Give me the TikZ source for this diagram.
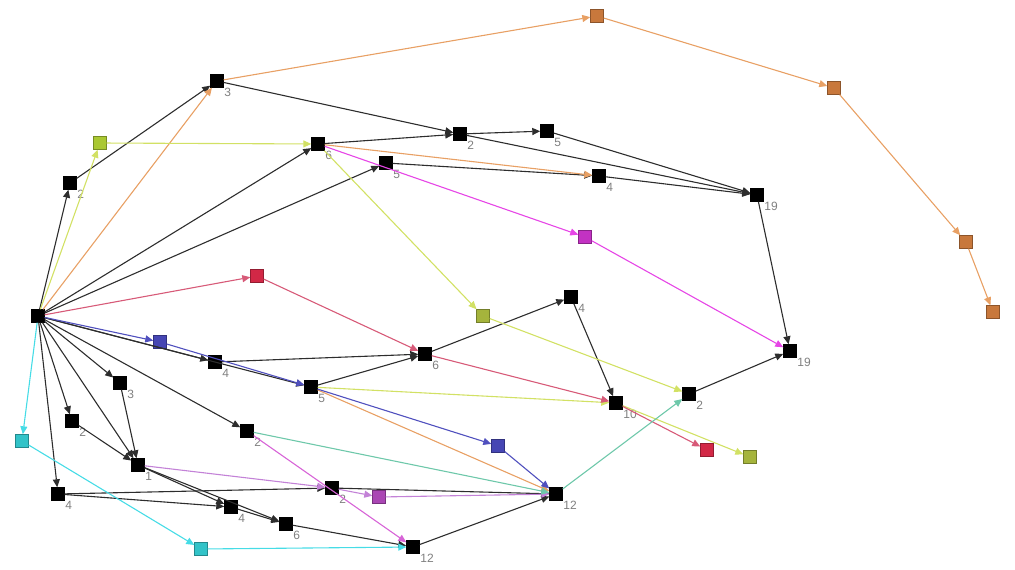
\documentclass[tikz,border=0pt]{standalone}
\usepackage{fontspec}
\setmainfont{Liberation Sans}
\usepackage{tikz}
\usetikzlibrary{arrows.meta}
\definecolor{darkline}{RGB}{45,45,45}
\definecolor{orangeline}{RGB}{232,160,100}
\definecolor{orangebox}{RGB}{200,120,60}
\definecolor{limeline}{RGB}{210,225,100}
\definecolor{limebox}{RGB}{170,200,50}
\definecolor{olivebox}{RGB}{165,180,60}
\definecolor{magline}{RGB}{230,70,230}
\definecolor{magbox}{RGB}{195,50,195}
\definecolor{redline}{RGB}{215,90,120}
\definecolor{redbox}{RGB}{210,40,70}
\definecolor{blueline}{RGB}{80,80,190}
\definecolor{bluebox}{RGB}{70,70,180}
\definecolor{violetline}{RGB}{195,130,215}
\definecolor{violetbox}{RGB}{170,70,180}
\definecolor{pinkline}{RGB}{215,100,215}
\definecolor{cyanline}{RGB}{70,220,230}
\definecolor{cyanbox}{RGB}{50,195,200}
\definecolor{tealline}{RGB}{110,200,170}

\begin{document}
\begin{tikzpicture}[
        x=1pt, y=-1pt,
        every label/.style={text=gray, font=\fontsize{12}{12}\selectfont, inner sep=0.5pt},
        bnode/.style={rectangle, draw=black, fill=black, minimum size=13pt, inner sep=0pt},
        cnode/.style={rectangle, draw=#1!70!black, fill=#1, minimum size=13pt, inner sep=0pt},
        link/.style={draw=#1, line width=1.1pt, -{Triangle[length=8pt,width=7pt]}},
        link/.default=darkline
    ]
        \useasboundingbox (0,0) rectangle (1015,570);

        % black nodes
        \node[bnode] (s) at (38,316) {};
        \node[bnode, label={below right:3}] (n3t) at (217,81) {};
        \node[bnode, label={below right:2}] (n2a) at (70,183) {};
        \node[bnode, label={below right:6}] (n6a) at (318,144) {};
        \node[bnode, label={below right:2}] (n2b) at (460,134) {};
        \node[bnode, label={below right:5}] (n5a) at (547,131) {};
        \node[bnode, label={below right:5}] (n5b) at (386,163) {};
        \node[bnode, label={below right:4}] (n4a) at (599,176) {};
        \node[bnode, label={below right:19}] (n19a) at (757,195) {};
        \node[bnode, label={below right:4}] (n4b) at (571,297) {};
        \node[bnode, label={below right:6}] (n6b) at (425,354) {};
        \node[bnode, label={below right:5}] (n5c) at (311,387) {};
        \node[bnode, label={below right:4}] (n4c) at (215,362) {};
        \node[bnode, label={below right:10}] (n10) at (616,403) {};
        \node[bnode, label={below right:2}] (n2c) at (689,394) {};
        \node[bnode, label={below right:19}] (n19b) at (790,351) {};
        \node[bnode, label={below right:3}] (n3b) at (120,383) {};
        \node[bnode, label={below right:2}] (n2d) at (72,421) {};
        \node[bnode, label={below right:2}] (n2e) at (247,431) {};
        \node[bnode, label={below right:1}] (n1) at (138,465) {};
        \node[bnode, label={below right:4}] (n4d) at (58,494) {};
        \node[bnode, label={below right:4}] (n4e) at (231,507) {};
        \node[bnode, label={below right:6}] (n6c) at (286,524) {};
        \node[bnode, label={below right:2}] (n2f) at (332,488) {};
        \node[bnode, label={below right:12}] (n12a) at (556,494) {};
        \node[bnode, label={below right:12}] (n12b) at (413,547) {};

        % coloured nodes
        \node[cnode=orangebox] (o1) at (597,16) {};
        \node[cnode=orangebox] (o2) at (834,88) {};
        \node[cnode=orangebox] (o3) at (966,242) {};
        \node[cnode=orangebox] (o4) at (993,312) {};
        \node[cnode=limebox] (g1) at (100,143) {};
        \node[cnode=olivebox] (g2) at (483,316) {};
        \node[cnode=olivebox] (g3) at (750,457) {};
        \node[cnode=magbox] (m1) at (585,237) {};
        \node[cnode=redbox] (r1) at (257,276) {};
        \node[cnode=redbox] (r2) at (707,450) {};
        \node[cnode=bluebox] (b1) at (160,342) {};
        \node[cnode=bluebox] (b2) at (498,446) {};
        \node[cnode=violetbox] (v1) at (379,497) {};
        \node[cnode=cyanbox] (c1) at (22,441) {};
        \node[cnode=cyanbox] (c2) at (201,549) {};

        % black links
        \draw[link] (s) -- (n2a);
        \draw[link] (n2a) -- (n3t);
        \draw[link] (s) -- (n6a);
        \draw[link] (s) -- (n5b);
        \draw[link] (n3t) -- (n2b);
        \draw[link] (n6a) -- (n2b);
        \draw[link] (n2b) -- (n5a);
        \draw[link] (n2b) -- (n19a);
        \draw[link] (n5a) -- (n19a);
        \draw[link] (n5b) -- (n4a);
        \draw[link] (n4a) -- (n19a);
        \draw[link] (n19a) -- (n19b);
        \draw[link] (s) -- (n4c);
        \draw[link] (s) -- (n5c);
        \draw[link] (n4c) -- (n6b);
        \draw[link] (n5c) -- (n6b);
        \draw[link] (n6b) -- (n4b);
        \draw[link] (n4b) -- (n10);
        \draw[link] (n2c) -- (n19b);
        \draw[link] (s) -- (n3b);
        \draw[link] (n3b) -- (n1);
        \draw[link] (s) -- (n2d);
        \draw[link] (n2d) -- (n1);
        \draw[link] (s) -- (n1);
        \draw[link] (s) -- (n4d);
        \draw[link] (s) -- (n2e);
        \draw[link] (n4d) -- (n2f);
        \draw[link] (n4d) -- (n4e);
        \draw[link] (n1) -- (n4e);
        \draw[link] (n1) -- (n6c);
        \draw[link] (n4e) -- (n6c);
        \draw[link] (n6c) -- (n12b);
        \draw[link] (n2f) -- (n12a);
        \draw[link] (n12b) -- (n12a);

        % coloured links
        \draw[link=orangeline] (s) -- (n3t);
        \draw[link=orangeline] (n3t) -- (o1);
        \draw[link=orangeline] (o1) -- (o2);
        \draw[link=orangeline] (o2) -- (o3);
        \draw[link=orangeline] (o3) -- (o4);
        \draw[link=orangeline] (n6a) -- (n4a);
        \draw[link=orangeline] (n5c) -- (n12a);
        \draw[link=limeline] (s) -- (g1);
        \draw[link=limeline] (g1) -- (n6a);
        \draw[link=limeline] (n6a) -- (g2);
        \draw[link=limeline] (g2) -- (n2c);
        \draw[link=limeline] (n5c) -- (n10);
        \draw[link=limeline] (n10) -- (g3);
        \draw[link=magline] (n6a) -- (m1);
        \draw[link=magline] (m1) -- (n19b);
        \draw[link=redline] (s) -- (r1);
        \draw[link=redline] (r1) -- (n6b);
        \draw[link=redline] (n6b) -- (n10);
        \draw[link=redline] (n10) -- (r2);
        \draw[link=blueline] (s) -- (b1);
        \draw[link=blueline] (b1) -- (n5c);
        \draw[link=blueline] (n5c) -- (b2);
        \draw[link=blueline] (b2) -- (n12a);
        \draw[link=violetline] (n1) -- (n2f);
        \draw[link=violetline] (n2f) -- (v1);
        \draw[link=violetline] (v1) -- (n12a);
        \draw[link=pinkline] (n2e) -- (n12b);
        \draw[link=cyanline] (s) -- (c1);
        \draw[link=cyanline] (c1) -- (c2);
        \draw[link=cyanline] (c2) -- (n12b);
        \draw[link=tealline] (n2e) -- (n12a);
        \draw[link=tealline] (n12a) -- (n2c);
    \end{tikzpicture}
\end{document}
